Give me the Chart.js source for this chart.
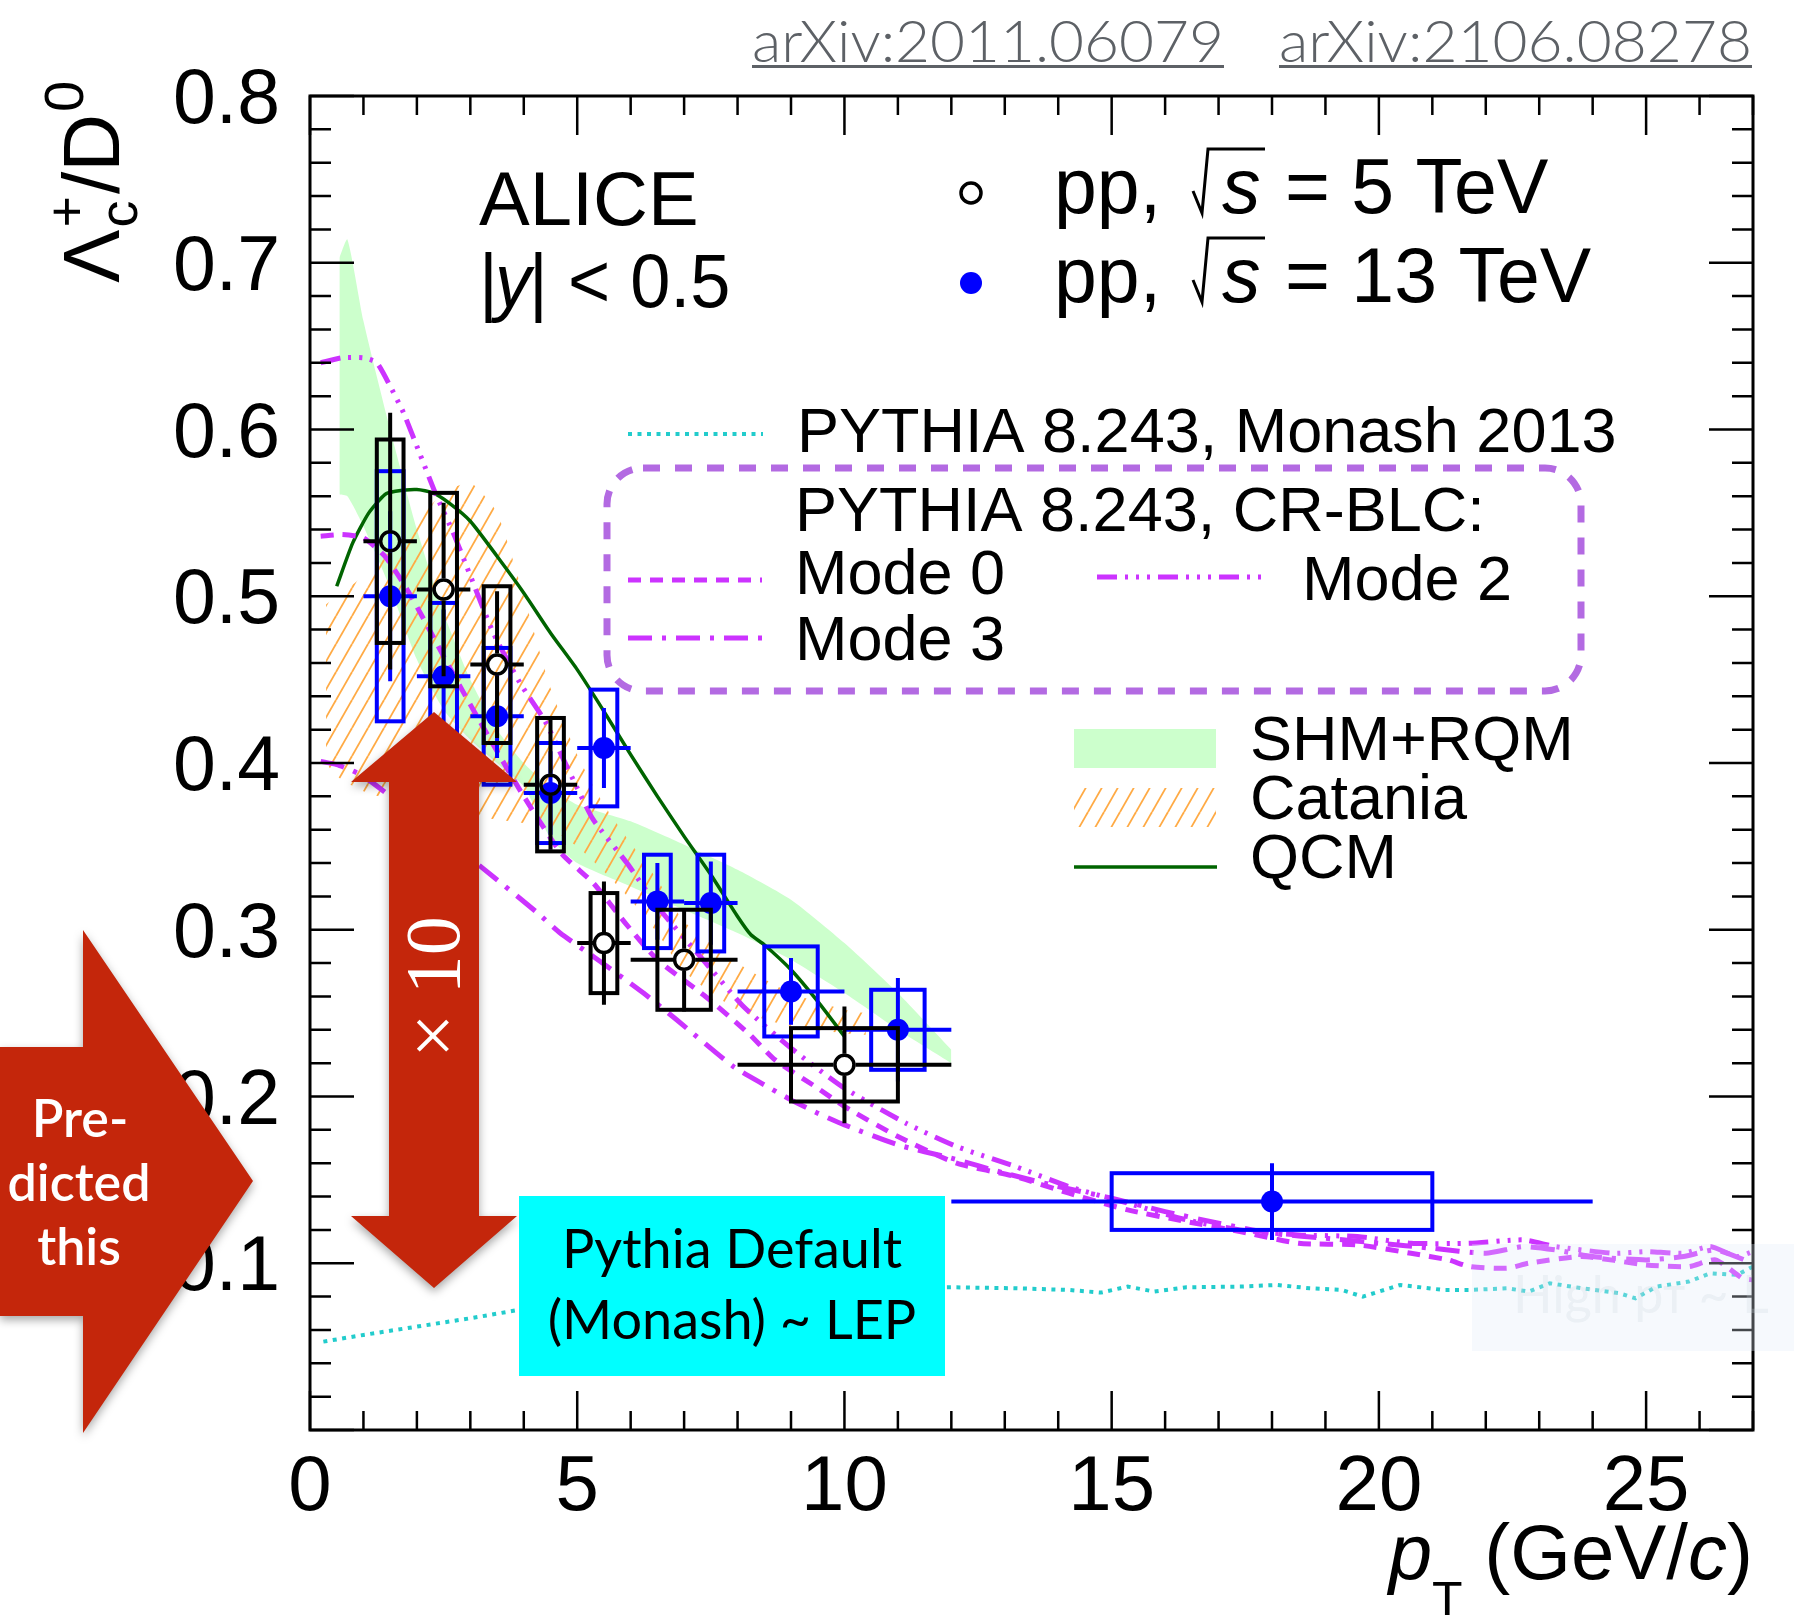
<!DOCTYPE html>
<html>
<head>
<meta charset="utf-8">
<title>Lambda_c / D0 ratio</title>
<script src="https://cdn.jsdelivr.net/npm/chart.js@4.4.1/dist/chart.umd.min.js"></script>
<style>
  html, body { margin: 0; padding: 0; background: #fff; }
  canvas { display: block; }
</style>
</head>
<body>
<canvas id="ratioChart" width="1794" height="1615"></canvas>
<script>
var xTickValues = [0, 5, 10, 15, 20, 25];
var xTickLabels = ['0', '5', '10', '15', '20', '25'];
var yTickValues = [0.1, 0.2, 0.3, 0.4, 0.5, 0.6, 0.7, 0.8];
var yTickLabels = ['0.1', '0.2', '0.3', '0.4', '0.5', '0.6', '0.7', '0.8'];

// ALICE pp 5 TeV (open circles)
var pt5 = [1.5, 2.5, 3.5, 4.5, 5.5, 7, 10];
var pt5Lo = [1, 2, 3, 4, 5, 6, 8];
var pt5Hi = [2, 3, 4, 5, 6, 8, 12];
var ratio5 = [0.533, 0.504, 0.459, 0.387, 0.292, 0.282, 0.219];
var stat5 = [0.077, 0.052, 0.044, 0.039, 0.037, 0.031, 0.035];
var syst5 = [0.061, 0.058, 0.047, 0.040, 0.030, 0.030, 0.022];

// ALICE pp 13 TeV (full circles)
var pt13 = [1.5, 2.5, 3.5, 4.5, 5.5, 6.5, 7.5, 9, 11, 18];
var pt13Lo = [1, 2, 3, 4, 5, 6, 7, 8, 10, 12];
var pt13Hi = [2, 3, 4, 5, 6, 7, 8, 10, 12, 24];
var ratio13 = [0.500, 0.452, 0.428, 0.382, 0.409, 0.317, 0.316, 0.263, 0.240, 0.137];
var stat13 = [0.051, 0.040, 0.025, 0.025, 0.024, 0.023, 0.025, 0.020, 0.031, 0.023];
var syst13 = [0.075, 0.044, 0.041, 0.030, 0.035, 0.028, 0.029, 0.027, 0.024, 0.017];

// SHM+RQM band
var shmPt = [0.55, 0.7, 1.0, 1.5, 2.0, 2.5, 3.0, 3.5, 4.0, 4.5, 5.0, 6.0, 7.0, 8.0, 9.0, 10.0, 11.0, 12.0];
var shmHigh = [0.703, 0.714, 0.665, 0.600, 0.540, 0.490, 0.450, 0.420, 0.400, 0.385, 0.375, 0.365, 0.351, 0.336, 0.318, 0.292, 0.262, 0.228];
var shmLow = [0.561, 0.560, 0.542, 0.505, 0.462, 0.432, 0.414, 0.400, 0.386, 0.355, 0.340, 0.326, 0.312, 0.298, 0.282, 0.262, 0.240, 0.220];

// Catania band
var catPt = [0.3, 0.5, 1, 1.5, 2, 2.5, 3, 3.5, 4, 4.5, 5, 5.5, 6, 6.5, 7, 8, 9, 10, 10.4];
var catHigh = [0.495, 0.500, 0.512, 0.527, 0.545, 0.562, 0.568, 0.550, 0.500, 0.445, 0.405, 0.375, 0.352, 0.330, 0.305, 0.280, 0.262, 0.252, 0.250];
var catLow = [0.400, 0.392, 0.383, 0.378, 0.374, 0.370, 0.368, 0.366, 0.364, 0.360, 0.350, 0.335, 0.318, 0.298, 0.275, 0.252, 0.242, 0.238, 0.237];

// QCM
var qcmPt = [0.5, 0.8, 1.1, 1.4, 1.6, 2.0, 2.3, 2.6, 3.0, 3.5, 4.0, 4.5, 5.0, 5.5, 6.0, 6.5, 7.0, 7.5, 8.0, 8.25, 8.5, 9.0, 9.5, 10.0];
var qcmVal = [0.506, 0.532, 0.550, 0.561, 0.563, 0.564, 0.562, 0.556, 0.545, 0.524, 0.502, 0.478, 0.456, 0.431, 0.405, 0.380, 0.356, 0.333, 0.308, 0.297, 0.291, 0.276, 0.257, 0.236];

// PYTHIA 8.243 Monash 2013
var monashPt = [0.25, 1, 2, 3, 3.9, 5, 6, 7, 8, 9, 10, 11, 12.0, 13.2, 14.2, 14.8, 15.3, 15.8, 16.4, 17.4, 18.1, 18.7, 19.3, 19.7, 20.4, 21.2, 21.7, 22.4, 22.8, 23.2, 23.8, 24.5, 24.8, 25.2, 25.8, 26.2, 26.7, 27.0];
var monashVal = [0.053, 0.057, 0.062, 0.067, 0.072, 0.076, 0.079, 0.081, 0.083, 0.084, 0.085, 0.085, 0.0856, 0.085, 0.084, 0.0824, 0.086, 0.083, 0.0856, 0.086, 0.087, 0.085, 0.084, 0.080, 0.087, 0.084, 0.084, 0.085, 0.083, 0.088, 0.085, 0.082, 0.079, 0.086, 0.089, 0.094, 0.093, 0.098];

// PYTHIA 8.243 CR-BLC modes
var mode0Pt = [0.2, 0.6, 1.0, 1.4, 1.8, 2.2, 2.6, 3.0, 3.5, 4.0, 4.7, 5.3, 5.9, 6.5, 7.4, 8.2, 8.7, 9.5, 10, 11, 12.1, 13.2, 14.2, 15.3, 16.4, 17.4, 18.5, 19.6, 20.6, 21.3, 21.7, 22.4, 22.8, 23.8, 25.0, 25.8, 26.3, 26.8, 27];
var mode0Val = [0.536, 0.537, 0.535, 0.524, 0.505, 0.482, 0.458, 0.435, 0.407, 0.380, 0.346, 0.328, 0.304, 0.282, 0.260, 0.238, 0.222, 0.205, 0.194, 0.176, 0.160, 0.152, 0.142, 0.132, 0.125, 0.119, 0.112, 0.111, 0.106, 0.102, 0.098, 0.097, 0.100, 0.104, 0.099, 0.098, 0.102, 0.091, 0.090];
var mode2Pt = [0.2, 0.6, 1.0, 1.25, 1.5, 1.75, 2.06, 2.37, 2.68, 2.93, 3.43, 3.93, 4.4, 4.7, 5.0, 5.3, 5.93, 6.55, 7.3, 8.11, 9.04, 10, 11.15, 12.1, 13.2, 14.2, 15.3, 16.4, 17.4, 18.5, 19.6, 20.6, 21.7, 22.7, 23.3, 24.4, 25.0, 25.7, 26.2, 26.7, 27];
var mode2Val = [0.640, 0.643, 0.643, 0.640, 0.626, 0.610, 0.585, 0.560, 0.538, 0.518, 0.478, 0.448, 0.425, 0.405, 0.385, 0.366, 0.340, 0.312, 0.284, 0.254, 0.228, 0.205, 0.184, 0.170, 0.158, 0.146, 0.136, 0.126, 0.120, 0.117, 0.116, 0.112, 0.112, 0.114, 0.110, 0.106, 0.107, 0.106, 0.110, 0.104, 0.107];
var mode3Pt = [0.2, 0.5, 0.75, 1.0, 1.5, 2.0, 2.5, 3.0, 3.19, 4.26, 4.68, 5.3, 6.24, 6.86, 7.92, 8.5, 9, 9.5, 10, 11, 12, 13, 14, 15, 16, 17, 18, 19, 20, 21, 22, 22.7, 23.3, 24, 25, 25.7, 26.3, 27];
var mode3Val = [0.401, 0.399, 0.396, 0.392, 0.380, 0.365, 0.352, 0.342, 0.338, 0.310, 0.298, 0.284, 0.262, 0.246, 0.218, 0.207, 0.198, 0.190, 0.183, 0.171, 0.163, 0.154, 0.146, 0.139, 0.131, 0.124, 0.118, 0.115, 0.112, 0.109, 0.106, 0.110, 0.108, 0.104, 0.102, 0.104, 0.108, 0.100];

var magenta = '#cc33ff';
var dataBlue = '#0000ff';

function points(xs, ys) {
  return xs.map(function(x, i) { return { x: x, y: ys[i] }; });
}

function makeHatch(color, w, h, lw) {
  var c = document.createElement('canvas');
  c.width = w;
  c.height = h;
  var g = c.getContext('2d');
  g.strokeStyle = color;
  g.lineWidth = lw;
  for (var k = -1; k <= 1; k++) {
    g.beginPath();
    g.moveTo(k * w, h);
    g.lineTo(k * w + w, 0);
    g.stroke();
  }
  return g.createPattern(c, 'repeat');
}

var catHatch = makeHatch('#ffaa44', 16, 28, 1.8);

function drawErrors(chart, xv, lo, hi, yv, stat, syst, color, gap) {
  var ctx = chart.ctx, xs = chart.scales.x, ys = chart.scales.y, a = chart.chartArea;
  ctx.save();
  ctx.beginPath();
  ctx.rect(a.left, a.top, a.right - a.left, a.bottom - a.top);
  ctx.clip();
  ctx.strokeStyle = color;
  ctx.lineWidth = 4;
  for (var i = 0; i < xv.length; i++) {
    var bw = (hi[i] - lo[i]) / 4;
    var left = xs.getPixelForValue(xv[i] - bw);
    var right = xs.getPixelForValue(xv[i] + bw);
    var top = ys.getPixelForValue(yv[i] + syst[i]);
    var bottom = ys.getPixelForValue(yv[i] - syst[i]);
    ctx.strokeRect(left, top, right - left, bottom - top);
    var px = xs.getPixelForValue(xv[i]);
    var py = ys.getPixelForValue(yv[i]);
    ctx.beginPath();
    ctx.moveTo(xs.getPixelForValue(lo[i]), py);
    ctx.lineTo(px - gap, py);
    ctx.moveTo(px + gap, py);
    ctx.lineTo(xs.getPixelForValue(hi[i]), py);
    ctx.moveTo(px, ys.getPixelForValue(yv[i] + stat[i]));
    ctx.lineTo(px, py - gap);
    ctx.moveTo(px, py + gap);
    ctx.lineTo(px, ys.getPixelForValue(yv[i] - stat[i]));
    ctx.stroke();
  }
  ctx.restore();
}

function drawFrame(chart) {
  var ctx = chart.ctx, a = chart.chartArea, xs = chart.scales.x, ys = chart.scales.y;
  ctx.save();
  ctx.strokeStyle = '#000';
  ctx.lineWidth = 2.5;
  ctx.beginPath();
  for (var v = 0; v <= 27; v++) {
    var px = xs.getPixelForValue(v);
    var len = v % 5 === 0 ? 39 : 19;
    ctx.moveTo(px, a.bottom);
    ctx.lineTo(px, a.bottom - len);
    ctx.moveTo(px, a.top);
    ctx.lineTo(px, a.top + len);
  }
  for (var k = 0; k <= 40; k++) {
    var py = ys.getPixelForValue(k * 0.02);
    var l2 = k % 5 === 0 ? 44 : 21;
    ctx.moveTo(a.left, py);
    ctx.lineTo(a.left + l2, py);
    ctx.moveTo(a.right, py);
    ctx.lineTo(a.right - l2, py);
  }
  ctx.stroke();
  ctx.lineWidth = 3;
  ctx.strokeRect(a.left, a.top, a.right - a.left, a.bottom - a.top);
  ctx.restore();
}

function roundedRect(ctx, x, y, w, h, r) {
  ctx.beginPath();
  ctx.moveTo(x + r, y);
  ctx.lineTo(x + w - r, y);
  ctx.arcTo(x + w, y, x + w, y + r, r);
  ctx.lineTo(x + w, y + h - r);
  ctx.arcTo(x + w, y + h, x + w - r, y + h, r);
  ctx.lineTo(x + r, y + h);
  ctx.arcTo(x, y + h, x, y + h - r, r);
  ctx.lineTo(x, y + r);
  ctx.arcTo(x, y, x + r, y, r);
  ctx.closePath();
}

function sample(ctx, x1, x2, y, color, width, dash) {
  ctx.save();
  ctx.strokeStyle = color;
  ctx.lineWidth = width;
  ctx.setLineDash(dash);
  ctx.beginPath();
  ctx.moveTo(x1, y);
  ctx.lineTo(x2, y);
  ctx.stroke();
  ctx.restore();
}

function drawEnergyEntry(ctx, baseY, label) {
  ctx.font = '77px "Liberation Sans"';
  ctx.fillText('pp,', 1054, baseY);
  ctx.save();
  ctx.lineWidth = 3;
  ctx.lineJoin = 'miter';
  ctx.beginPath();
  ctx.moveTo(1193, baseY - 22);
  ctx.lineTo(1202, baseY);
  ctx.lineTo(1208, baseY - 64);
  ctx.lineTo(1265, baseY - 64);
  ctx.stroke();
  ctx.restore();
  ctx.font = 'italic 77px "Liberation Sans"';
  ctx.fillText('s', 1222, baseY);
  ctx.font = '77px "Liberation Sans"';
  var txt = '= ' + label;
  ctx.fillText(txt, 1285, baseY);
}

function drawTexts(ctx) {
  ctx.save();
  ctx.fillStyle = '#000';
  ctx.strokeStyle = '#000';
  ctx.textBaseline = 'alphabetic';
  ctx.textAlign = 'left';

  // arXiv references
  ctx.fillStyle = '#5d6166';
  ctx.font = '300 58px Lato';
  [['arXiv:2011.06079', 752, 1224], ['arXiv:2106.08278', 1279, 1752]].forEach(function(r) {
    var w = ctx.measureText(r[0]).width;
    ctx.save();
    ctx.translate(r[1], 62);
    ctx.scale((r[2] - r[1]) / w, 1);
    ctx.fillText(r[0], 0, 0);
    ctx.restore();
    ctx.fillRect(r[1], 65, r[2] - r[1], 3);
  });

  ctx.fillStyle = '#000';
  ctx.font = '76px "Liberation Sans"';
  ctx.fillText('ALICE', 479, 225);
  ctx.save();
  ctx.translate(479, 307);
  ctx.scale(0.95, 1);
  var x = 0;
  ctx.fillText('|', x, 0);
  x += ctx.measureText('|').width;
  ctx.font = 'italic 76px "Liberation Sans"';
  ctx.fillText('y', x - 3, 0);
  x += ctx.measureText('y').width - 5;
  ctx.font = '76px "Liberation Sans"';
  ctx.fillText('| < 0.5', x, 0);
  ctx.restore();

  // energy legend
  ctx.save();
  ctx.lineWidth = 3.5;
  ctx.beginPath();
  ctx.arc(971, 193, 10, 0, Math.PI * 2);
  ctx.stroke();
  ctx.fillStyle = dataBlue;
  ctx.beginPath();
  ctx.arc(971, 283, 11, 0, Math.PI * 2);
  ctx.fill();
  ctx.restore();
  drawEnergyEntry(ctx, 213, '5 TeV');
  drawEnergyEntry(ctx, 302, '13 TeV');

  // PYTHIA legend
  ctx.font = '63px "Liberation Sans"';
  sample(ctx, 628, 763, 434, '#22cccc', 4, [4, 5.5]);
  ctx.fillText('PYTHIA 8.243, Monash 2013', 797, 452);
  ctx.save();
  ctx.strokeStyle = '#b36ae2';
  ctx.lineWidth = 7;
  ctx.setLineDash([17, 15]);
  roundedRect(ctx, 607, 468, 974, 223, 36);
  ctx.stroke();
  ctx.restore();
  ctx.fillText('PYTHIA 8.243, CR-BLC:', 795, 531);
  sample(ctx, 628, 762, 580, magenta, 5, [13, 9]);
  ctx.fillText('Mode 0', 795, 594);
  sample(ctx, 1097, 1262, 577, magenta, 5, [20, 8, 3, 8, 3, 8, 3, 8]);
  ctx.fillText('Mode 2', 1302, 600);
  sample(ctx, 628, 762, 638, magenta, 5, [24, 10, 4, 10]);
  ctx.fillText('Mode 3', 795, 660);

  ctx.fillStyle = '#ccffcc';
  ctx.fillRect(1074, 729, 142, 39);
  ctx.fillStyle = catHatch;
  ctx.fillRect(1074, 788, 142, 39);
  sample(ctx, 1074, 1217, 867, '#006400', 3.5, []);
  ctx.fillStyle = '#000';
  ctx.fillText('SHM+RQM', 1250, 760);
  ctx.fillText('Catania', 1250, 819);
  ctx.fillText('QCM', 1250, 878);

  // x-axis title, right aligned to frame
  var parts = [
    ['italic 78px "Liberation Sans"', 'p', 0],
    ['50px "Liberation Sans"', 'T', 38],
    ['78px "Liberation Sans"', ' (GeV/', 0],
    ['italic 78px "Liberation Sans"', 'c', 0],
    ['78px "Liberation Sans"', ')', 0]
  ];
  var total = 0;
  parts.forEach(function(p) { ctx.font = p[0]; total += ctx.measureText(p[1]).width; });
  var tx = 1753 - total;
  parts.forEach(function(p) {
    ctx.font = p[0];
    ctx.fillText(p[1], tx, 1579 + p[2]);
    tx += ctx.measureText(p[1]).width;
  });

  // y-axis title, rotated
  ctx.save();
  ctx.translate(119, 283);
  ctx.rotate(-Math.PI / 2);
  ctx.font = '80px "Liberation Sans"';
  ctx.fillText('\u039B', 0, 0);
  var yx = ctx.measureText('\u039B').width;
  ctx.font = '54px "Liberation Sans"';
  ctx.fillText('+', yx + 2, -34);
  ctx.fillText('c', yx + 2, 18);
  yx += Math.max(ctx.measureText('+').width, ctx.measureText('c').width) + 4;
  ctx.font = '80px "Liberation Sans"';
  ctx.fillText('/D', yx, 0);
  yx += ctx.measureText('/D').width;
  ctx.font = '56px "Liberation Sans"';
  ctx.fillText('0', yx + 2, -36);
  ctx.restore();

  ctx.restore();
}

function drawOverlays(ctx) {
  ctx.save();
  // faint box bottom right
  ctx.fillStyle = 'rgba(225, 236, 248, 0.3)';
  ctx.fillRect(1472, 1244, 322, 107);
  ctx.fillStyle = 'rgba(200, 210, 220, 0.25)';
  ctx.font = '52px Lato';
  ctx.fillText('High p\u1D1B ~ L', 1513, 1313);

  var red = '#c4260b';
  ctx.save();
  ctx.shadowColor = 'rgba(0, 0, 0, 0.35)';
  ctx.shadowBlur = 10;
  ctx.shadowOffsetY = 4;
  ctx.fillStyle = red;
  // big arrow "Predicted this"
  ctx.beginPath();
  ctx.moveTo(0, 1047);
  ctx.lineTo(83, 1047);
  ctx.lineTo(83, 930);
  ctx.lineTo(253, 1181);
  ctx.lineTo(83, 1433);
  ctx.lineTo(83, 1316);
  ctx.lineTo(0, 1316);
  ctx.closePath();
  ctx.fill();
  // double arrow x10
  ctx.beginPath();
  ctx.moveTo(434, 712);
  ctx.lineTo(517, 782);
  ctx.lineTo(479, 782);
  ctx.lineTo(479, 1216);
  ctx.lineTo(517, 1216);
  ctx.lineTo(434, 1288);
  ctx.lineTo(351, 1216);
  ctx.lineTo(389, 1216);
  ctx.lineTo(389, 782);
  ctx.lineTo(351, 782);
  ctx.closePath();
  ctx.fill();
  ctx.restore();

  ctx.fillStyle = '#fff';
  ctx.textAlign = 'center';
  ctx.font = '600 52px Lato';
  ctx.fillText('Pre-', 80, 1137);
  ctx.fillText('dicted', 79, 1201);
  ctx.fillText('this', 79, 1265);

  ctx.save();
  ctx.translate(459, 987);
  ctx.rotate(-Math.PI / 2);
  ctx.textAlign = 'center';
  ctx.font = '78px "Liberation Serif"';
  ctx.fillText('\u00D7 10', 0, 0);
  ctx.restore();

  // cyan box
  ctx.fillStyle = '#00ffff';
  ctx.fillRect(519, 1196, 426, 180);
  ctx.fillStyle = '#000';
  ctx.font = '54px Lato';
  ctx.fillText('Pythia Default', 732, 1268);
  ctx.fillText('(Monash) ~ LEP', 732, 1339);
  ctx.restore();
}

var decorPlugin = {
  id: 'decor',
  beforeDatasetDraw: function(chart, args) {
    var ds = chart.data.datasets[args.index];
    if (ds.errKey === 'pp13') drawErrors(chart, pt13, pt13Lo, pt13Hi, ratio13, stat13, syst13, dataBlue, 0);
    if (ds.errKey === 'pp5') drawErrors(chart, pt5, pt5Lo, pt5Hi, ratio5, stat5, syst5, '#000000', 11);
  },
  afterDraw: function(chart) {
    drawFrame(chart);
    drawTexts(chart.ctx);
    drawOverlays(chart.ctx);
  }
};

function curve(xs, ys, color, width, dash, order, tension) {
  return {
    data: points(xs, ys),
    showLine: true,
    borderColor: color,
    borderWidth: width,
    borderDash: dash,
    pointRadius: 0,
    fill: false,
    tension: tension,
    order: order
  };
}

var ctx = document.getElementById('ratioChart').getContext('2d');
var ratioChart = new Chart(ctx, {
  type: 'scatter',
  data: {
    datasets: [
      { data: points(shmPt, shmHigh), showLine: true, borderWidth: 0, borderColor: 'rgba(0,0,0,0)', backgroundColor: '#ccffcc', pointRadius: 0, fill: '+1', tension: 0.2, order: 20 },
      { data: points(shmPt, shmLow), showLine: true, borderWidth: 0, borderColor: 'rgba(0,0,0,0)', pointRadius: 0, fill: false, tension: 0.2, order: 19 },
      { data: points(catPt, catHigh), showLine: true, borderWidth: 0, borderColor: 'rgba(0,0,0,0)', backgroundColor: catHatch, pointRadius: 0, fill: '+1', tension: 0.2, order: 18 },
      { data: points(catPt, catLow), showLine: true, borderWidth: 0, borderColor: 'rgba(0,0,0,0)', pointRadius: 0, fill: false, tension: 0.2, order: 17 },
      curve(qcmPt, qcmVal, '#006400', 3.5, [], 16, 0.2),
      curve(monashPt, monashVal, '#22cccc', 4, [4, 5.5], 15, 0),
      curve(mode3Pt, mode3Val, magenta, 5, [24, 10, 4, 10], 14, 0.2),
      curve(mode0Pt, mode0Val, magenta, 5, [13, 9], 13, 0.2),
      curve(mode2Pt, mode2Val, magenta, 5, [20, 8, 3, 8, 3, 8, 3, 8], 12, 0.2),
      { errKey: 'pp13', data: points(pt13, ratio13), pointStyle: 'circle', pointRadius: 11, backgroundColor: dataBlue, borderColor: dataBlue, borderWidth: 0, order: 2 },
      { errKey: 'pp5', data: points(pt5, ratio5), pointStyle: 'circle', pointRadius: 9.5, backgroundColor: 'rgba(0,0,0,0)', borderColor: '#000', borderWidth: 3.5, order: 1 }
    ]
  },
  options: {
    responsive: false,
    animation: false,
    devicePixelRatio: 1,
    layout: { padding: { left: 0, right: 41, top: 96, bottom: 0 } },
    plugins: { legend: { display: false }, tooltip: { enabled: false } },
    events: [],
    scales: {
      x: {
        type: 'linear',
        min: 0,
        max: 27,
        grid: { display: false, drawTicks: false },
        border: { display: false },
        afterFit: function(scale) { scale.height = 185; },
        ticks: {
          stepSize: 5,
          includeBounds: false,
          autoSkip: false,
          maxRotation: 0,
          padding: 19,
          color: '#000',
          font: { family: 'Liberation Sans', size: 78, lineHeight: 1 },
          callback: function(v) {
            var i = xTickValues.indexOf(v);
            return i >= 0 ? xTickLabels[i] : '';
          }
        }
      },
      y: {
        type: 'linear',
        min: 0,
        max: 0.8,
        grid: { display: false, drawTicks: false },
        border: { display: false },
        afterFit: function(scale) { scale.width = 310; },
        ticks: {
          stepSize: 0.1,
          autoSkip: false,
          padding: 30,
          labelOffset: 6,
          color: '#000',
          font: { family: 'Liberation Sans', size: 77, lineHeight: 1 },
          callback: function(v) {
            for (var i = 0; i < yTickValues.length; i++) {
              if (Math.abs(yTickValues[i] - v) < 1e-6) return yTickLabels[i];
            }
            return '';
          }
        }
      }
    }
  },
  plugins: [decorPlugin]
});
</script>
</body>
</html>
